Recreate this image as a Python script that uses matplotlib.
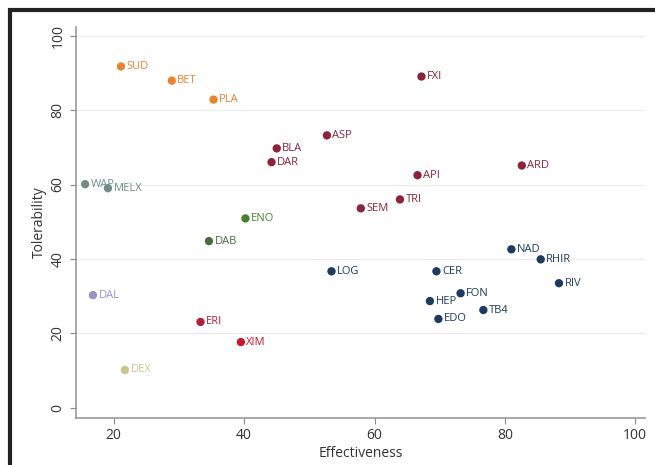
import matplotlib
matplotlib.use("Agg")
import matplotlib.pyplot as plt
from matplotlib.patches import Rectangle

plt.rcParams['font.family'] = ['Open Sans', 'DejaVu Sans']

labels = ["SUD", "BET", "PLA", "BLA", "DAR", "ASP", "FXI", "ARD", "API", "TRI", "SEM",
          "WAP", "MELX", "ENO", "DAB", "LOG", "CER", "NAD", "RHIR", "RIV", "FON", "HEP",
          "TB4", "EDO", "DAL", "ERI", "XIM", "DEX"]
effectiveness = [21.1, 28.9, 35.3, 45.0, 44.2, 52.7, 67.2, 82.6, 66.6, 63.9, 57.9,
                 15.6, 19.1, 40.2, 34.6, 53.4, 69.5, 81.0, 85.5, 88.3, 73.2, 68.5,
                 76.7, 69.8, 16.8, 33.3, 39.5, 21.7]
tolerability = [91.7, 87.9, 82.8, 69.7, 66.0, 73.2, 89.0, 65.1, 62.5, 56.0, 53.6,
                60.1, 59.0, 50.9, 44.8, 36.7, 36.7, 42.6, 39.9, 33.5, 30.8, 28.7,
                26.3, 23.9, 30.3, 23.1, 17.7, 10.2]
groups = ["orange"] * 3 + ["maroon"] * 8 + ["teal"] * 2 + ["green", "olive"] + ["navy"] * 9 + \
         ["lavender", "crimson", "red", "khaki"]
group_colors = {"orange": "#e8832f", "maroon": "#8c2338", "teal": "#6f8d86", "green": "#4f7d30",
                "olive": "#4b6a3d", "navy": "#1d3b5f", "lavender": "#9a92cb", "crimson": "#b12239",
                "red": "#c41a2c", "khaki": "#cdc48e"}
x_ticks = [20, 40, 60, 80, 100]
y_ticks = [0, 20, 40, 60, 80, 100]

fig = plt.figure(figsize=(6.55, 4.65), dpi=100)
ax = fig.add_axes([76 / 655, 47 / 465, 569 / 655, 391 / 465])

for lab, x, y, g in zip(labels, effectiveness, tolerability, groups):
    c = group_colors[g]
    ax.scatter([x], [y], s=36, color=c, edgecolors='none', zorder=3)
    ax.annotate(lab, (x, y), xytext=(4, 0), textcoords='offset points',
                va='center', ha='left', fontsize=8, color=c, zorder=4)

ax.set_xlim(14.2, 101.5)
ax.set_ylim(-2.7, 102.3)
ax.set_xticks(x_ticks)
ax.set_yticks(y_ticks)
ax.tick_params(axis='both', colors='#888888', labelcolor='#333333', labelsize=10, length=4, width=0.8)
for lbl in ax.get_yticklabels():
    lbl.set_rotation(90)
    lbl.set_va('center')
for yv in y_ticks[1:]:
    ax.axhline(yv, color='#ececec', lw=0.8, zorder=0)
for s in ['top', 'right']:
    ax.spines[s].set_visible(False)
for s in ['left', 'bottom']:
    ax.spines[s].set_color('#999999')
    ax.spines[s].set_linewidth(1.2)
ax.set_xlabel("Effectiveness", fontsize=10, color='#333333', labelpad=2)
ax.set_ylabel("Tolerability", fontsize=10, color='#333333', labelpad=3)

fig.patches.append(Rectangle((10 / 655, -0.1), 1.2, 455 / 465 + 0.1, transform=fig.transFigure,
                             fill=False, edgecolor='#222222', lw=3, zorder=10))

fig.savefig("out.png", dpi=100)
